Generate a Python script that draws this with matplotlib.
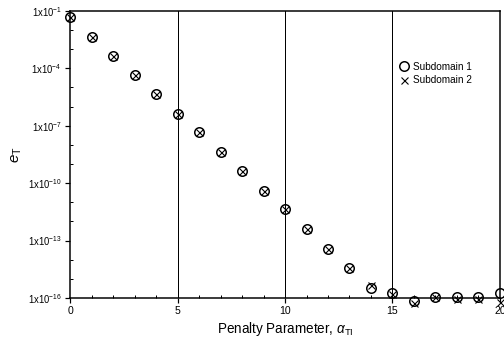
import matplotlib
matplotlib.use('Agg')
import matplotlib.pyplot as plt
from matplotlib.ticker import FixedLocator, MultipleLocator

plt.rcParams['font.family'] = 'Liberation Sans'
plt.rcParams['mathtext.fontset'] = 'custom'
plt.rcParams['mathtext.rm'] = 'Liberation Sans'
plt.rcParams['mathtext.it'] = 'Liberation Sans:italic'

# penalty parameter values and error (log10)
alpha = list(range(21))
exp_sub1 = [-1.31, -2.36, -3.35, -4.35, -5.34, -6.38, -7.32, -8.37, -9.36, -10.41, -11.37,
            -12.39, -13.44, -14.43, -15.47, -15.76, -16.16, -15.95, -15.95, -15.95, -15.74]
exp_sub2 = [-1.31, -2.36, -3.35, -4.35, -5.34, -6.38, -7.32, -8.37, -9.36, -10.41, -11.37,
            -12.39, -13.44, -14.43, -15.32, -15.78, -16.26, -15.95, -16.05, -16.05, -16.21]
e_sub1 = [10.0 ** v for v in exp_sub1]
e_sub2 = [10.0 ** v for v in exp_sub2]

ytick_exps = [-1, -4, -7, -10, -13, -16]
xtick_vals = [0, 5, 10, 15, 20]

fig = plt.figure(figsize=(7, 4.875), dpi=72)
ax = fig.add_axes([0.139, 0.151, 0.853, 0.818])

ax.set_yscale('log')
ax.set_xlim(0, 20)
ax.set_ylim(1e-16, 1e-1)

for xv in xtick_vals[1:]:
    ax.axvline(xv, color='black', lw=1.0, zorder=1)

ax.plot(alpha, e_sub1, ls='none', marker='o', ms=9.5, mfc='none', mec='black', mew=1.5,
        clip_on=False, zorder=3, label='Subdomain 1')
ax.plot(alpha, e_sub2, ls='none', marker='x', ms=7, mec='black', mew=1.1,
        clip_on=False, zorder=3, label='Subdomain 2')

ax.yaxis.set_major_locator(FixedLocator([10.0 ** v for v in ytick_exps]))
ax.yaxis.set_minor_locator(FixedLocator([10.0 ** v for v in range(-16, 0)]))
ax.set_yticklabels([r'1x10$^{%d}$' % v for v in ytick_exps], fontsize=9.5)
ax.yaxis.set_minor_formatter(plt.NullFormatter())

ax.set_xticks(xtick_vals)
ax.set_xticklabels([str(v) for v in xtick_vals], fontsize=10.5)
ax.xaxis.set_minor_locator(MultipleLocator(1))

ax.tick_params(which='major', direction='out', length=5, width=1.2)
ax.tick_params(which='minor', direction='in', length=3, width=1.0)

for s in ax.spines.values():
    s.set_linewidth(1.5)

ax.set_xlabel(r'Penalty Parameter, $\alpha_{\mathrm{TI}}$', fontsize=13.5, labelpad=4)
ax.set_ylabel(r'$e_{\mathrm{T}}$', fontsize=15, labelpad=4)

ax.legend(loc='upper left', bbox_to_anchor=(0.745, 0.855), frameon=False, fontsize=10,
          handletextpad=0.4, labelspacing=0.35, handlelength=1.0)

fig.savefig('out.png', dpi=72)
